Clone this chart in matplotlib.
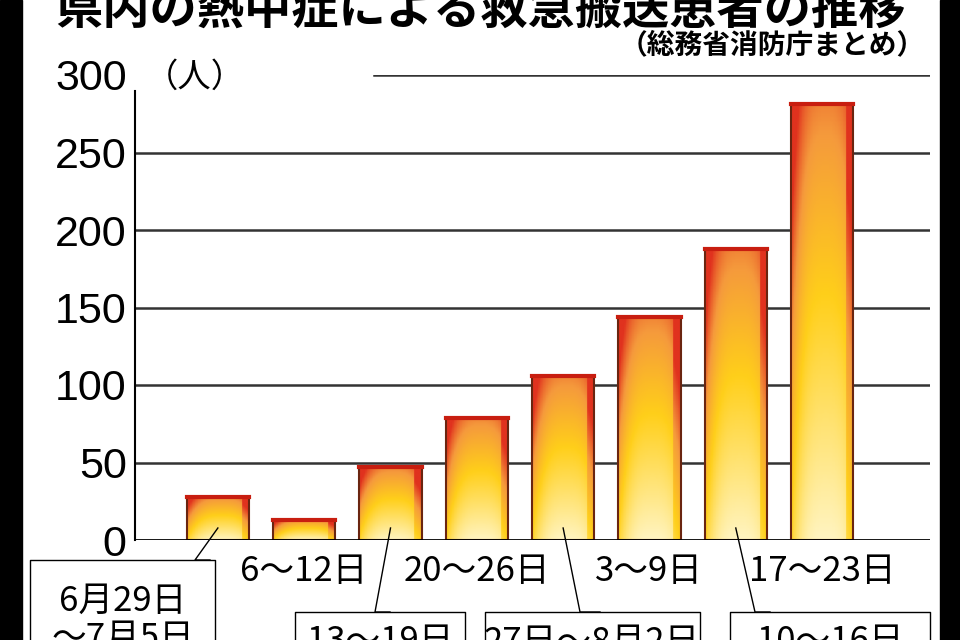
import numpy as np
import matplotlib
matplotlib.use("Agg")
import matplotlib.pyplot as plt
from matplotlib.colors import LinearSegmentedColormap
from matplotlib.patches import Rectangle

plt.rcParams["font.family"] = "Noto Sans CJK JP"

title = "県内の熱中症による救急搬送患者の推移"
subtitle = "（総務省消防庁まとめ）"
unit = "（人）"
weeks = ["6月29日\n～7月5日", "6～12日", "13～19日", "20～26日",
         "27日～8月2日", "3～9日", "10～16日", "17～23日"]
values = [28, 13, 47, 79, 106, 144, 188, 281]
yticks = [0, 50, 100, 150, 200, 250, 300]

W, H = 960, 640
fig = plt.figure(figsize=(9.6, 6.4), dpi=100)
fig.patch.set_facecolor("white")

def fx(x): return x / W
def fy(y): return 1 - y / H

ax = fig.add_axes([fx(135), fy(540), fx(930) - fx(135), (540 - 75) / H])
ax.set_xlim(-0.96, 8.25)
ax.set_ylim(0, 300)
for s in ["top", "right", "bottom"]:
    ax.spines[s].set_visible(False)
ax.spines["left"].set_bounds(0, 290)
ax.spines["left"].set_linewidth(1.5)
ax.set_xticks([])
ax.set_yticks(yticks)
ax.set_yticklabels([str(t) for t in yticks], fontsize=31, family="Liberation Sans")
ax.tick_params(axis="y", length=0, pad=6)
for t in yticks[1:]:
    ax.axhline(t, xmin=0.30 if t == 300 else 0, color="#333333", lw=1.8, zorder=0)
ax.axhline(0, color="black", lw=2, zorder=5)

cmap = LinearSegmentedColormap.from_list(
    "g", [(0, "#fff4c0"), (0.45, "#ffcf1a"), (0.75, "#f59a3c"), (1, "#e0321e")])
bw = 0.72
for i, v in enumerate(values):
    yy = np.linspace(0, 1, 100)[:, None]
    xx = np.linspace(-1, 1, 40)[None, :]
    grad = yy * 0.8 + 0.3 * np.abs(xx - 0.1) ** 3 + 0.25 * (xx > 0.75)
    grad = np.clip(grad, 0, 1)
    ax.imshow(grad, extent=[i - bw / 2, i + bw / 2, 0, v], origin="lower",
              cmap=cmap, vmin=0, vmax=1, aspect="auto", zorder=2)
    ax.bar(i, v, width=bw, facecolor="none", edgecolor="#6a2510", lw=1.5, zorder=3)
    ax.plot([i - bw / 2, i + bw / 2], [v, v], color="#c81e10", lw=3, zorder=3)

fig.text(fx(480), fy(10), title, ha="center", va="center", fontsize=34, weight="bold")
fig.text(fx(925), fy(45), subtitle, ha="right", va="center", fontsize=20, weight="bold")
fig.text(fx(145), fy(77), unit, ha="left", va="center", fontsize=24)

top_idx = [1, 3, 5, 7]
for i in top_idx:
    xc = 135 + (i + 0.96) / 9.21 * 795
    fig.text(fx(xc), fy(572), weeks[i], ha="center", va="center", fontsize=25)

lw = 1.0
def box(x0, x1, ytop, text, xc, ytext, bar_i, lead_to):
    bx = 135 + (bar_i + 0.96) / 9.21 * 795
    fig.add_artist(plt.Line2D([fx(x0), fx(x0), fx(x1), fx(x1)],
                              [fy(660), fy(ytop), fy(ytop), fy(660)],
                              color="black", lw=lw))
    fig.add_artist(plt.Line2D([fx(bx), fx(lead_to[0]), fx(lead_to[1])],
                              [fy(528), fy(ytop), fy(ytop)], color="black", lw=lw))
    fig.text(fx(xc), fy(ytext), text, ha="center", va="center", fontsize=25,
             linespacing=1.05)

box(30, 215, 560, weeks[0], 123, 620, 0, (195, 210))
box(295, 465, 612, weeks[2], 380, 642, 2, (375, 390))
box(485, 700, 612, weeks[4], 592, 642, 4, (580, 600))
box(730, 930, 612, weeks[6], 830, 642, 6, (755, 770))

fig.add_artist(Rectangle((0, 0), fx(22), 1, transform=fig.transFigure, color="black"))
fig.add_artist(Rectangle((fx(940), 0), fx(20), 1, transform=fig.transFigure, color="black"))

fig.savefig("out.png", dpi=100)
